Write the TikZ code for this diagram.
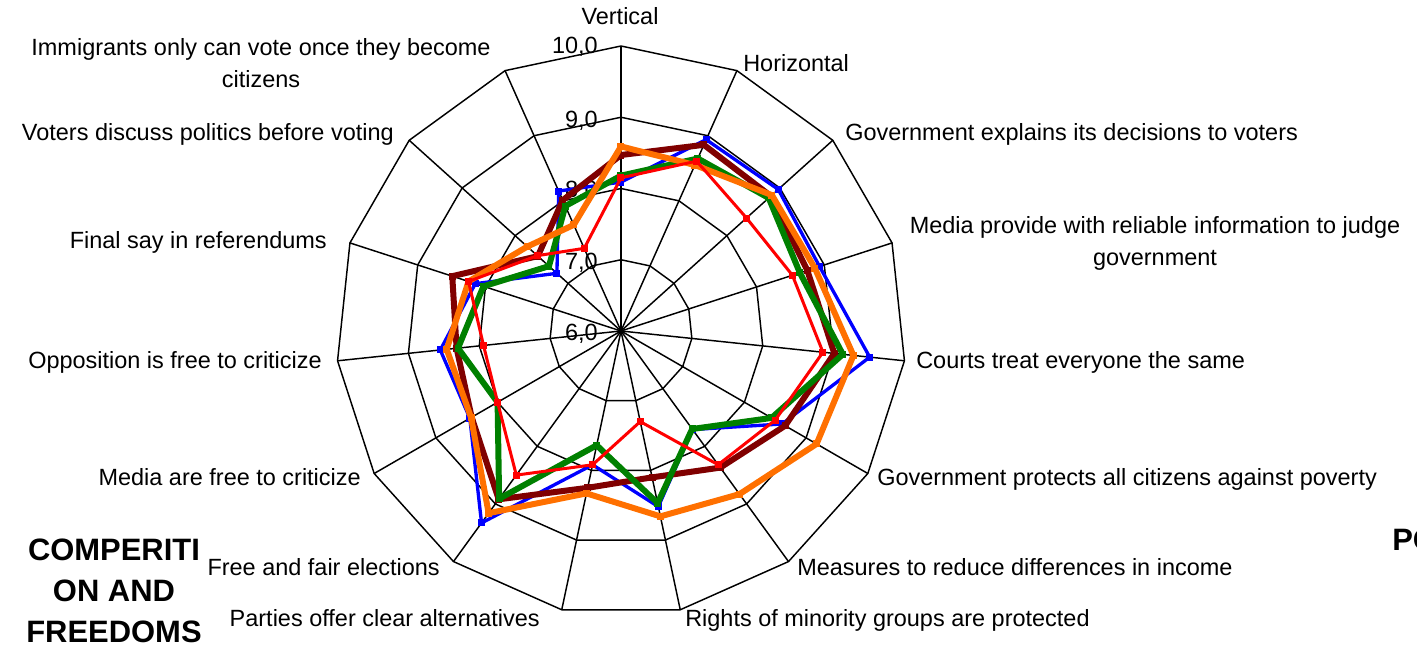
\documentclass[tikz,border=0pt]{standalone}
\usepackage{fontspec}
\setmainfont{Liberation Sans}
\definecolor{serblue}{RGB}{0,0,255}
\definecolor{sermaroon}{RGB}{128,0,0}
\definecolor{sergreen}{RGB}{0,128,0}
\definecolor{serorange}{RGB}{255,112,0}
\definecolor{serred}{RGB}{255,0,0}

% one series: colour, line width, 15 values (scale 6..10)
\newcommand{\radarline}[3]{%
  \foreach \v [count=\k from 0] in {#3} {
    \coordinate (#1-\k) at ({90-24*\k}:{(\v-6)*71.25});
  }
  \draw[#1, line width=#2, line join=round] (#1-0)
    \foreach \k in {1,...,14} {-- (#1-\k)} -- cycle;
  \foreach \k in {0,...,14} {
    \fill[#1] (#1-\k) ++(-3.5,-3.5) rectangle ++(7,7);
  }
}

\begin{document}
\begin{tikzpicture}[x=0.75pt, y=0.75pt,
    font=\fontsize{17.6}{21}\selectfont,
    lbl/.style={inner sep=0pt},
    big/.style={inner sep=0pt, font=\fontsize{23.2}{28}\selectfont\bfseries}]
    \useasboundingbox (-621,-314) rectangle (796,331);

    % grid
    \foreach \k in {0,...,14}
        \draw[black, line width=1.1pt] (0,0) -- ({90-24*\k}:285);
    \foreach \r in {71.25,142.5,213.75,285}
        \draw[black, line width=1.1pt, line join=round] (90:\r)
            \foreach \k in {1,...,14} {-- ({90-24*\k}:\r)} -- cycle;

    % scale
    \node[lbl, anchor=base east] (t10) at (-23,277) {10,0};
    \node[lbl, anchor=base east] (t9) at (-23,203) {9,0};
    \node[lbl, anchor=base east] (t8) at (-23,133) {8,0};
    \node[lbl, anchor=base east] (t7) at (-23,61) {7,0};
    \node[lbl, anchor=base east] (t6) at (-23,-10) {6,0};

    % axis labels
    \node[lbl, anchor=base] (vert) at (-1,306) {Vertical};
    \node[lbl, anchor=base west] (horiz) at (122,259) {Horizontal};
    \node[lbl, anchor=base west] (govexp) at (224,190) {Government explains its decisions to voters};
    \node[lbl, anchor=base] (mediaa) at (534,97) {Media provide with reliable information to judge};
    \node[lbl, anchor=base] (mediab) at (534,65) {government};
    \node[lbl, anchor=base west] (courts) at (295,-38) {Courts treat everyone the same};
    \node[lbl, anchor=base west] (poverty) at (256,-155) {Government protects all citizens against poverty};
    \node[lbl, anchor=base west] (income) at (176,-245) {Measures to reduce differences in income};
    \node[lbl, anchor=base west] (minor) at (64,-296) {Rights of minority groups are protected};
    \node[lbl, anchor=base east] (parties) at (-81,-296) {Parties offer clear alternatives};
    \node[lbl, anchor=base east] (elect) at (-181,-245) {Free and fair elections};
    \node[lbl, anchor=base east] (mediafree) at (-260,-155) {Media are free to criticize};
    \node[lbl, anchor=base east] (oppos) at (-299,-38) {Opposition is free to criticize};
    \node[lbl, anchor=base east] (refer) at (-294,82) {Final say in referendums};
    \node[lbl, anchor=base east] (voters) at (-227,190) {Voters discuss politics before voting};
    \node[lbl, anchor=base] (immiga) at (-360,275) {Immigrants only can vote once they become};
    \node[lbl, anchor=base] (immigb) at (-360,243) {citizens};

    % data
    \radarline{serblue}{2.5pt}{8.09,8.94,8.97,8.93,9.51,8.61,7.71,8.52,7.92,9.33,8.45,8.55,8.15,7.21,8.15}
    \radarline{sermaroon}{4.5pt}{8.47,8.86,8.83,8.75,9.01,8.66,8.37,8.10,8.25,8.92,8.42,8.32,8.49,7.57,8.01}
    \radarline{sergreen}{4.5pt}{8.18,8.65,8.79,8.64,9.13,8.44,7.70,8.47,7.64,8.91,8.00,8.30,8.03,7.36,7.92}
    \radarline{serorange}{4.5pt}{8.59,8.55,8.85,8.86,9.28,9.17,8.83,8.66,8.33,9.16,8.43,8.46,8.25,7.77,7.63}
    \radarline{serred}{2.25pt}{8.15,8.61,8.37,8.53,8.85,8.50,8.32,7.30,7.92,8.50,8.00,7.94,8.25,7.58,7.27}

    % side titles
    \node[big, anchor=base] (compa) at (-507,-230) {COMPERITI};
    \node[big, anchor=base] (compb) at (-507,-271) {ON AND};
    \node[big, anchor=base] (compc) at (-507,-311) {FREEDOMS};
    \node[big, anchor=base west] (po) at (771,-220) {PO};
\end{tikzpicture}
\end{document}
